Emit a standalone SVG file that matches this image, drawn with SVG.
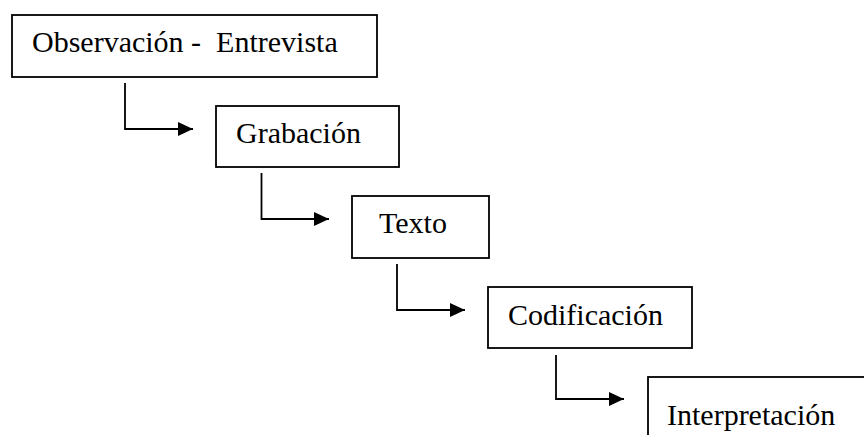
<svg xmlns="http://www.w3.org/2000/svg" width="864" height="435" viewBox="0 0 864 435">
<defs>
<style>
.box{fill:#fff;stroke:#000;stroke-width:1.8}
.lbl{font-family:"Liberation Serif","Times New Roman",serif;font-size:30px;fill:#000;white-space:pre}
.conn{fill:none;stroke:#000;stroke-width:1.8}
</style>
<marker id="arr" viewBox="0 0 15 14" refX="15" refY="7" markerWidth="15" markerHeight="14" markerUnits="userSpaceOnUse" orient="auto">
<path d="M0,0 L15,7 L0,14 Z" fill="#000"/>
</marker>
</defs>
<rect width="864" height="435" fill="#fff"/>
<g id="n1"><rect class="box" x="12" y="15" width="365" height="62"/><text class="lbl" x="32" y="52" xml:space="preserve">Observación -  Entrevista</text></g>
<g id="n2"><rect class="box" x="216" y="106" width="183" height="61"/><text class="lbl" x="236" y="143">Grabación</text></g>
<g id="n3"><rect class="box" x="352" y="196" width="137" height="62"/><text class="lbl" x="379" y="233">Texto</text></g>
<g id="n4"><rect class="box" x="488" y="287" width="204" height="61"/><text class="lbl" x="508" y="325">Codificación</text></g>
<g id="n5"><rect class="box" x="648" y="377" width="240" height="80"/><text class="lbl" x="667" y="425">Interpretación</text></g>
<g id="connectors">
<path class="conn" d="M125,83 V129 H193" marker-end="url(#arr)"/>
<path class="conn" d="M261.5,173 V219 H329" marker-end="url(#arr)"/>
<path class="conn" d="M397,264 V310 H465" marker-end="url(#arr)"/>
<path class="conn" d="M556,355 V399 H624" marker-end="url(#arr)"/>
</g>
</svg>
